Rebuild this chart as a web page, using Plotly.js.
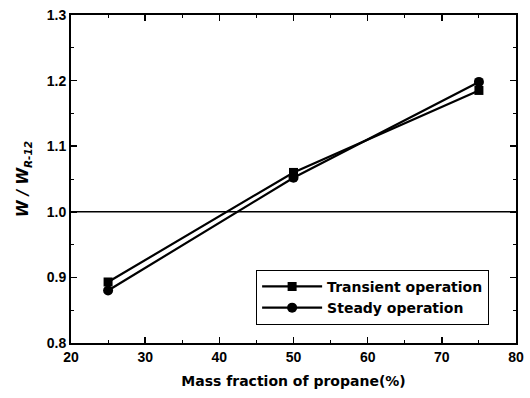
<!DOCTYPE html>
<html><head><meta charset="utf-8">
<script src="https://cdn.plot.ly/plotly-3.0.1.min.js"></script>
<style>html,body{margin:0;padding:0;background:#fff}</style>
</head><body>
<div id="chart" style="width:530px;height:398px"></div>
<script>
const massFraction = [25, 50, 75];
const transient = [0.893, 1.060, 1.185];
const steady = [0.880, 1.052, 1.198];
const seriesNames = ["Transient operation", "Steady operation"];
const refLevel = 1.0;

const font = {family: "Liberation Sans, Arial, sans-serif", color: "#000"};
const wideFont = {family: "DejaVu Sans, sans-serif", color: "#000"};

const traces = [
  {x: massFraction, y: transient, name: seriesNames[0], mode: "lines+markers",
   line: {color: "#000", width: 2.2}, marker: {symbol: "square", size: 9, color: "#000"}},
  {x: massFraction, y: steady, name: seriesNames[1], mode: "lines+markers",
   line: {color: "#000", width: 2.2}, marker: {symbol: "circle", size: 10, color: "#000"}}
];

const axisCommon = {
  showline: true, linecolor: "#000", linewidth: 2, mirror: "allticks",
  ticks: "inside", ticklen: 6, tickwidth: 1.5, tickcolor: "#000",
  showgrid: false, zeroline: false,
  tickfont: Object.assign({size: 14, weight: "bold"}, font)
};

const layout = {
  width: 530, height: 398,
  margin: {l: 71, r: 14, t: 15, b: 55},
  paper_bgcolor: "#fff", plot_bgcolor: "#fff",
  font: font,
  showlegend: true,
  legend: {x: 0.416, y: 0.223, xanchor: "left", yanchor: "top",
    bordercolor: "#000", borderwidth: 1, bgcolor: "#fff",
    font: Object.assign({size: 14, weight: "bold"}, wideFont),
    tracegroupgap: 0, itemwidth: 60, entrywidth: 240},
  xaxis: Object.assign({}, axisCommon, {
    range: [20, 80], dtick: 10, tick0: 20,
    minor: {ticks: "inside", dtick: 5, ticklen: 3, tickcolor: "#000", tickwidth: 1},
    title: {text: "<b>Mass fraction of propane(%)</b>", font: Object.assign({size: 14}, wideFont), standoff: 12}
  }),
  yaxis: Object.assign({}, axisCommon, {
    range: [0.8, 1.3], dtick: 0.1, tick0: 0.8, tickformat: ".1f",
    minor: {ticks: "inside", dtick: 0.05, ticklen: 3, tickcolor: "#000", tickwidth: 1},
    title: {text: "<b><i>W / W<sub>R-12</sub></i></b>", font: Object.assign({size: 15}, wideFont), standoff: 14}
  }),
  shapes: [{type: "line", xref: "paper", x0: 0, x1: 1, yref: "y", y0: refLevel, y1: refLevel,
    line: {color: "#000", width: 1.5}}]
};

Plotly.newPlot("chart", traces, layout, {displayModeBar: false, staticPlot: true});
</script>
</body></html>
